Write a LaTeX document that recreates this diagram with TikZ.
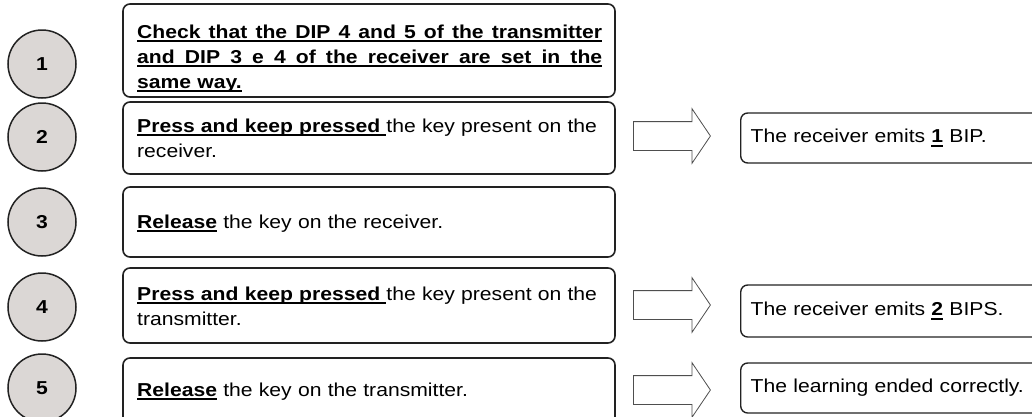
\documentclass[tikz,border=0pt]{standalone}
\usepackage{fontspec}
\setmainfont{Liberation Sans}[FakeStretch=1.13]
\usetikzlibrary{positioning, shapes.arrows}
\definecolor{bubble}{RGB}{219,215,213}
\definecolor{ink}{RGB}{34,34,34}
\tikzset{
num/.style={circle, draw=ink, line width=1.5pt, fill=bubble, minimum size=68pt,
  inner sep=0pt, font=\fontsize{18.7}{20}\selectfont\bfseries},
stepbox/.style={rectangle, draw=ink, line width=1.6pt, rounded corners=7pt,
  minimum width=492pt, inner sep=0pt},
steptext/.style={anchor=base west, inner sep=0pt, text width=470pt, align=left,
  font=\fontsize{18.7}{25}\selectfont},
resbox/.style={rectangle, draw=ink, line width=1.4pt, rounded corners=7pt,
  anchor=west, minimum width=320pt, inner sep=0pt, text width=300pt, align=left,
  font=\fontsize{18.7}{25}\selectfont},
fat/.style={single arrow, draw=ink!80, line width=0.8pt, fill=white, anchor=tail,
  minimum height=77pt, single arrow head extend=13pt,
  single arrow tip angle=112, inner sep=0pt}
}
% underline drawn as a rule under the box
\newcommand{\undl}[1]{\leavevmode\setbox0\hbox{#1}\rlap{\rule[-4pt]{\wd0}{1.7pt}}\box0\relax}
\newcommand{\keyword}[1]{\undl{\textbf{#1}\ }}
% full-width justified line, underlined from end to end
\newcommand{\fullline}[1]{\leavevmode\hbox to 465pt{\spaceskip=.278em plus 1fil\relax
  \rlap{\rule[-4pt]{465pt}{1.7pt}}#1}}

\begin{document}
\begin{tikzpicture}[x=1pt, y=-1pt]
 \clip (0,0) rectangle (1032,416);

 % step numbers
 \foreach \N/\Y in {1/64, 2/137, 3/222, 4/307, 5/388}
   \node[num] (n\N) at (42,\Y) {\N};

 % step boxes
 \node[stepbox, minimum height=93pt] (s1) at (369,50.5) {};
 \node[stepbox, minimum height=72pt] (s2) at (369,138) {};
 \node[stepbox, minimum height=70pt] (s3) at (369,222) {};
 \node[stepbox, minimum height=75pt] (s4) at (369,305.5) {};
 \node[stepbox, minimum height=72pt] (s5) at (369,394) {};

 \node[steptext] (t1) at (137,38) {\bfseries
   \fullline{Check that the DIP 4 and 5 of the transmitter}\\
   \fullline{and DIP 3 e 4 of the receiver are set in the}\\
   \undl{same way.}};
 \node[steptext] (t2) at (137,132) {\keyword{Press and keep pressed}the key present on the\\ receiver.};
 \node[steptext] (t3) at (137,228) {\undl{\textbf{Release}} the key on the receiver.};
 \node[steptext] (t4) at (137,300) {\keyword{Press and keep pressed}the key present on the\\ transmitter.};
 \node[steptext] (t5) at (137,396) {\undl{\textbf{Release}} the key on the transmitter.};

 % results
 \node[fat] (a2) at (633,136) {\rule{0pt}{28pt}};
 \node[fat] (a4) at (633,305) {\rule{0pt}{28pt}};
 \node[fat] (a5) at (633,390) {\rule{0pt}{28pt}};

 \node[resbox, minimum height=50pt] (r2) at (740,138) {The receiver emits \undl{\textbf{1}} BIP.};
 \node[resbox, minimum height=52pt] (r4) at (740,311) {The receiver emits \undl{\textbf{2}} BIPS.};
 \node[resbox, minimum height=50pt] (r5) at (740,388) {The learning ended correctly.};
\end{tikzpicture}
\end{document}
